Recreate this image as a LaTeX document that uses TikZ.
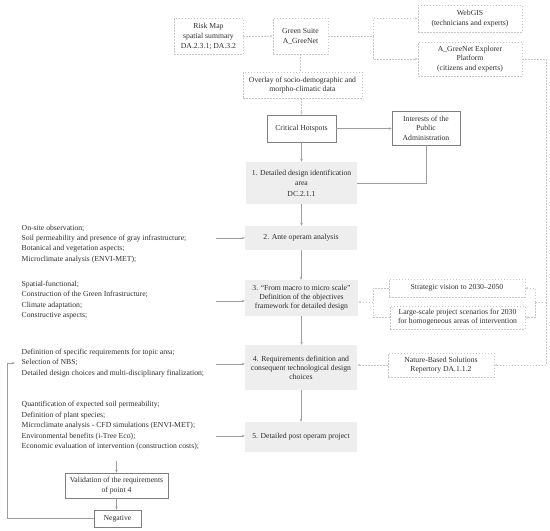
\documentclass[tikz,border=0pt]{standalone}
\usepackage{fontspec}
\setmainfont{Liberation Serif}
\usetikzlibrary{arrows.meta}
\definecolor{txt}{HTML}{2E2E2E}
\definecolor{dashc}{HTML}{C6C6C6}
\definecolor{solc}{HTML}{7F7F7F}
\definecolor{linec}{HTML}{9E9E9E}
\definecolor{grayf}{HTML}{EEEEEE}
\begin{document}
\begin{tikzpicture}[x=1pt,y=-1pt,
  every node/.style={font=\fontsize{7.7}{9.5}\selectfont, text=txt, inner sep=0pt, align=center},
  dbox/.style={draw=dashc, dash pattern=on 1.5pt off 1.5pt, line width=0.5pt},
  sbox/.style={draw=solc, line width=0.6pt},
  gbox/.style={fill=grayf},
  ltext/.style={align=left, anchor=west, font=\fontsize{7.7}{10.4}\selectfont},
  sarr/.style={draw=linec, line width=0.5pt, -{Stealth[length=3pt,width=2.4pt]}},
  sline/.style={draw=linec, line width=0.5pt},
  darr/.style={draw=dashc, line width=0.5pt, dash pattern=on 1.5pt off 1.5pt, -{Stealth[length=3pt,width=2.4pt]}},
  dline/.style={draw=dashc, line width=0.5pt, dash pattern=on 1.5pt off 1.5pt}
]
\useasboundingbox (0,0) rectangle (550,531);

% top dashed boxes
\node[dbox, minimum width=69pt, minimum height=36pt, font=\fontsize{7.7}{10}\selectfont] (risk) at (208.5,36) {Risk Map\\spatial summary\\DA.2.3.1; DA.3.2};
\node[dbox, minimum width=55pt, minimum height=36pt, font=\fontsize{7.7}{10}\selectfont] (green) at (300.5,36) {Green Suite\\A\_GreeNet};
\node[dbox, minimum width=104pt, minimum height=27pt, font=\fontsize{7.7}{10}\selectfont] (webgis) at (470,18.5) {WebGIS\\(technicians and experts)};
\node[dbox, minimum width=104pt, minimum height=34pt] (explorer) at (470,59) {A\_GreeNet Explorer\\Platform\\(citizens and experts)};
\node[dbox, minimum width=119pt, minimum height=26pt] (overlay) at (302.5,85) {Overlay of socio-demographic and\\morpho-climatic data};

% solid boxes
\node[sbox, minimum width=69pt, minimum height=27pt] (critical) at (301.5,128.5) {Critical Hotspots};
\node[sbox, minimum width=68pt, minimum height=34pt] (interests) at (426,128) {Interests of the\\Public\\Administration};

% gray boxes
\node[gbox, minimum width=111pt, minimum height=42pt, font=\fontsize{7.7}{10.5}\selectfont] (box1) at (301.5,183) {1. Detailed design identification\\area\\DC.2.1.1};
\node[gbox, minimum width=112pt, minimum height=24pt] (box2) at (301,238) {2. Ante operam analysis};
\node[gbox, minimum width=113pt, minimum height=36pt, font=\fontsize{7.7}{8.9}\selectfont] (box3) at (301.5,298) {3. “From macro to micro scale”\\Definition of the objectives\\framework for detailed design};
\node[gbox, minimum width=112pt, minimum height=45pt, font=\fontsize{7.7}{8.9}\selectfont] (box4) at (301,367.5) {4. Requirements definition and\\consequent technological design\\choices};
\node[gbox, minimum width=112pt, minimum height=30pt] (box5) at (301,437) {5. Detailed post operam project};

% right dashed boxes
\node[dbox, minimum width=136pt, minimum height=18pt] (strategic) at (457,288) {Strategic vision to 2030–2050};
\node[dbox, minimum width=135pt, minimum height=23pt, font=\fontsize{7.7}{9}\selectfont] (large) at (457.5,317.5) {Large-scale project scenarios for 2030\\for homogeneous areas of intervention};
\node[dbox, minimum width=106pt, minimum height=24pt] (nature) at (441,365) {Nature-Based Solutions\\Repertory DA.1.1.2};

% bottom solid boxes
\node[sbox, minimum width=103pt, minimum height=25pt, font=\fontsize{7.7}{10}\selectfont] (val) at (116.5,485.5) {Validation of the requirements\\of point 4};
\node[sbox, minimum width=47pt, minimum height=17pt] (neg) at (117.5,518.5) {Negative};

% left text blocks
\node[ltext] (t1) at (21.5,243.8) {On-site observation;\\Soil permeability and presence of gray infrastructure;\\Botanical and vegetation aspects;\\Microclimate analysis (ENVI-MET);};
\node[ltext] (t2) at (21.5,300.2) {Spatial-functional;\\Construction of the Green Infrastructure;\\Climate adaptation;\\Constructive aspects;};
\node[ltext] (t3) at (21.5,363) {Definition of specific requirements for topic area;\\Selection of NBS;\\Detailed design choices and multi-disciplinary finalization;};
\node[ltext] (t4) at (21.5,425.8) {Quantification of expected soil permeability;\\Definition of plant species;\\Microclimate analysis - CFD simulations (ENVI-MET);\\Environmental benefits (i-Tree Eco);\\Economic evaluation of intervention (construction costs);};

% coordinates
\coordinate (a1) at (216,238);
\coordinate (a2) at (216,301);
\coordinate (a3) at (216,364);
\coordinate (a4) at (216,436);
\coordinate (a5) at (116.5,461);
\coordinate (fb) at (7,519);
\coordinate (fe) at (15,363);
\coordinate (sp1) at (373,36);
\coordinate (rs) at (546,59);
\coordinate (rj) at (546,302);
\coordinate (rm) at (535,302);
\coordinate (lm) at (373,302);

% dashed connectors
\draw[darr] (risk.east) -- (green.west);
\draw[dline] (green.east) -- (sp1);
\draw[darr] (sp1) |- (webgis.west);
\draw[darr] (sp1) |- (explorer.west);
\draw[dline] (green.south) -- (green.south |- overlay.north);
\draw[darr] (critical.north |- overlay.south) -- (critical.north);
\draw[dline] (explorer.east) -- (rs);
\draw[darr] (rs) |- (nature.east);
\draw[dline] (rj) -- (rm);
\draw[darr] (rm) |- (strategic.east);
\draw[darr] (rm) |- (large.east);
\draw[dline] (strategic.west) -| (lm);
\draw[dline] (large.west) -| (lm);
\draw[darr] (lm) -- (lm -| box3.east);
\draw[darr] (nature.west) -- (nature.west -| box4.east);

% solid connectors
\draw[sarr] (critical.east) -- (critical.east -| interests.west);
\draw[sarr] (critical.south) -- (critical.south |- box1.north);
\draw[sline] (interests.south) |- (box1.east);
\draw[sarr] (box1.south) -- (box1.south |- box2.north);
\draw[sarr] (box2.south) -- (box2.south |- box3.north);
\draw[sarr] (box3.south) -- (box3.south |- box4.north);
\draw[sarr] (box4.south) -- (box4.south |- box5.north);
\draw[sarr] (a1) -- (a1 -| box2.west);
\draw[sarr] (a2) -- (a2 -| box3.west);
\draw[sarr] (a3) -- (a3 -| box4.west);
\draw[sarr] (a4) -- (a4 -| box5.west);
\draw[sarr] (a5) -- (a5 |- val.north);
\draw[sarr] (val.south) -- (val.south |- neg.north);
\draw[sarr] (neg.west) -- (neg.west -| fb) -- (fb |- fe) -- (fe);
\end{tikzpicture}
\end{document}
